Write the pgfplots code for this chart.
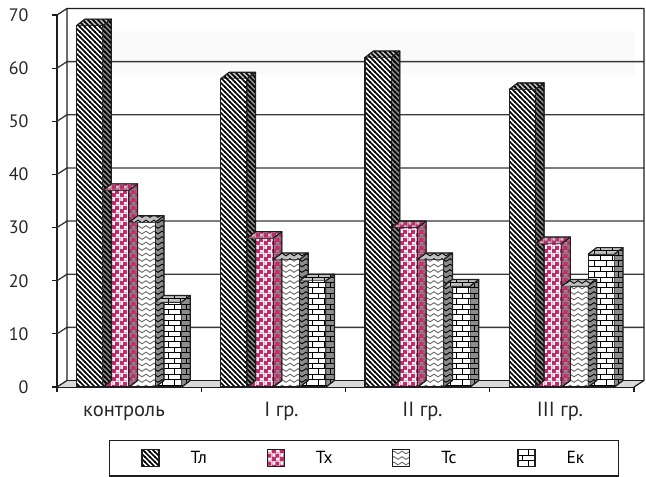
\documentclass[border=0pt]{standalone}
\usepackage{fontspec}
\setmainfont{PT Sans}
\usepackage{pgfplots}
\pgfplotsset{compat=1.18}
\usepackage{pgfplotstable}
\usetikzlibrary{patterns}

\definecolor{txc}{RGB}{192,44,108}
\definecolor{sidegray}{RGB}{140,140,140}
\definecolor{topgray}{RGB}{192,192,192}
\definecolor{edge}{RGB}{30,30,30}
\definecolor{gridc}{RGB}{55,55,55}
\definecolor{floorc}{RGB}{218,218,218}
\definecolor{bandc}{RGB}{250,250,250}
\definecolor{wavec}{RGB}{105,105,105}

% fill patterns of the four series
\pgfdeclarepatternformonly{diagstripes}{\pgfqpoint{-1pt}{-1pt}}{\pgfqpoint{6pt}{6pt}}{\pgfqpoint{5pt}{5pt}}{%
  \pgfsetlinewidth{1.5pt}%
  \pgfpathmoveto{\pgfqpoint{-0.5pt}{5.5pt}}%
  \pgfpathlineto{\pgfqpoint{5.5pt}{-0.5pt}}%
  \pgfusepath{stroke}}
\pgfdeclarepatternformonly{checks}{\pgfqpoint{0pt}{0pt}}{\pgfqpoint{8pt}{8pt}}{\pgfqpoint{8pt}{8pt}}{%
  \pgfpathrectangle{\pgfqpoint{0pt}{0pt}}{\pgfqpoint{8pt}{8pt}}%
  \pgfpathrectangle{\pgfqpoint{0.4pt}{4.4pt}}{\pgfqpoint{3.2pt}{3.2pt}}%
  \pgfpathrectangle{\pgfqpoint{4.4pt}{0.4pt}}{\pgfqpoint{3.2pt}{3.2pt}}%
  \pgfseteorule
  \pgfusepath{fill}}
\pgfdeclarepatternformonly{wavy}{\pgfqpoint{0pt}{-1pt}}{\pgfqpoint{8pt}{6.5pt}}{\pgfqpoint{8pt}{5.5pt}}{%
  \pgfsetlinewidth{0.9pt}%
  \pgfpathmoveto{\pgfqpoint{0pt}{2.5pt}}%
  \pgfpathsine{\pgfqpoint{2pt}{1.3pt}}%
  \pgfpathcosine{\pgfqpoint{2pt}{-1.3pt}}%
  \pgfpathsine{\pgfqpoint{2pt}{-1.3pt}}%
  \pgfpathcosine{\pgfqpoint{2pt}{1.3pt}}%
  \pgfusepath{stroke}}
\pgfdeclarepatternformonly{brickwall}{\pgfqpoint{-0.5pt}{-0.5pt}}{\pgfqpoint{12.5pt}{11.3pt}}{\pgfqpoint{12pt}{10.8pt}}{%
  \pgfsetlinewidth{1pt}%
  \pgfpathmoveto{\pgfqpoint{0pt}{0pt}}\pgfpathlineto{\pgfqpoint{12pt}{0pt}}%
  \pgfpathmoveto{\pgfqpoint{0pt}{5.4pt}}\pgfpathlineto{\pgfqpoint{12pt}{5.4pt}}%
  \pgfpathmoveto{\pgfqpoint{0pt}{0pt}}\pgfpathlineto{\pgfqpoint{0pt}{5.4pt}}%
  \pgfpathmoveto{\pgfqpoint{6pt}{5.4pt}}\pgfpathlineto{\pgfqpoint{6pt}{10.8pt}}%
  \pgfusepath{stroke}}

\pgfdeclareplotmark{nothing}{}

% geometry of the 3D look
\def\uy{5.314286}          % pt per unit of y (372pt / 70)
\def\hw{13.15pt}           % half bar width
\def\bw{26.3pt}            % bar width
\def\bdx{8.5pt}\def\bdy{6.5pt}  % depth of a bar
\def\wdx{10pt}\def\wdy{6.5pt}   % depth of the walls

% side and top faces of a bar, drawn at its front top centre
\newcommand\drawfaces[2]{%
  \pgfmathsetlengthmacro\H{\hval*\uy}%
  \fill[sidegray] (\hw,0pt) -- ++(\bdx,\bdy) -- ++(0pt,-\H) -- (\hw,-\H) -- cycle;
  \fill[pattern=#1, pattern color=#2] (\hw,0pt) -- ++(\bdx,\bdy) -- ++(0pt,-\H) -- (\hw,-\H) -- cycle;
  \fill[topgray] (-\hw,0pt) -- ++(\bdx,\bdy) -- ++(\bw,0pt) -- (\hw,0pt) -- cycle;
  \fill[pattern=#1, pattern color=#2] (-\hw,0pt) -- ++(\bdx,\bdy) -- ++(\bw,0pt) -- (\hw,0pt) -- cycle;
  \draw[edge, line width=1.2pt, line join=round] (-\hw,0pt) -- ++(\bdx,\bdy) -- ++(\bw,0pt) -- ++(0pt,-\H) -- (\hw,-\H);
  \draw[edge, line width=1.2pt, line join=round] (\hw,0pt) -- ++(\bdx,\bdy);
}

\pgfplotsset{
  faces/.style 2 args={forget plot, only marks, scatter, mark=nothing,
    scatter/@pre marker code/.code={\drawfaces{#1}{#2}},
    scatter/@post marker code/.code={}},
  front/.style 2 args={ybar, preaction={fill=white}, pattern=#1, pattern color=#2,
    draw=edge, line width=1.3pt,
    legend image code/.code={%
      \path (-28pt,0pt) (46pt,0pt);
      \fill[white] (0pt,-8.5pt) rectangle (17pt,8.5pt);
      \draw[edge, line width=1.3pt, pattern=#1, pattern color=#2] (0pt,-8.5pt) rectangle (17pt,8.5pt);}},
}

\pgfplotstableread{
x  Tl Tx Tc Ek
0  68 37 31 16
1  58 28 24 20
2  62 30 24 19
3  56 27 19 25
}\data

\begin{document}
\begin{tikzpicture}
\begin{axis}[
  at={(57pt,90pt)}, anchor=south west,
  scale only axis, width=577pt, height=372pt,
  clip=false,
  xmin=-0.5, xmax=3.5, ymin=0, ymax=70,
  axis x line*=bottom, axis y line*=left,
  axis line style={-, draw=edge, line width=1.3pt},
  tick style={draw=edge, line width=1.2pt},
  tick align=outside, major tick length=5pt,
  ytick={0,10,...,70},
  yticklabel style={xshift=-20pt},
  xtick={-0.5,0.5,1.5,2.5,3.5}, xticklabels={},
  extra x ticks={-0.0355,1.0563,2.0338,2.987},
  extra x tick labels={контроль, I гр., II гр., III гр.},
  extra x tick style={major tick length=0pt, tick style={draw=none},
    xticklabel style={font=\fontsize{20.5}{24}\selectfont, anchor=base, yshift=-30pt}},
  tick label style={font=\fontsize{18}{21}\selectfont, text=black!85},
  /pgf/number format/assume math mode=true,
  bar width=0.18232,
  legend columns=4,
  legend style={at={(0.532,-0.1425)}, anchor=north, draw=edge, line width=1.2pt,
    font=\fontsize{17.5}{19}\selectfont, inner xsep=4pt, inner ysep=8.5pt},
]
% floor, back wall and left wall
\fill[floorc] (axis cs:-0.5,0) -- (axis cs:3.5,0) -- ([shift={(\wdx,\wdy)}]axis cs:3.5,0) -- ([shift={(\wdx,\wdy)}]axis cs:-0.5,0) -- cycle;
\fill[bandc] ([shift={(\wdx,\wdy)}]axis cs:-0.5,57.5) rectangle ([shift={(\wdx,\wdy)}]axis cs:3.4376,65.8);
\pgfplotsinvokeforeach{10,20,...,60}{
  \draw[gridc, line width=1.3pt] (axis cs:-0.5,#1) -- ([shift={(\wdx,\wdy)}]axis cs:-0.5,#1) -- ([shift={(\wdx,\wdy)}]axis cs:3.5,#1);
}
\draw[edge, line width=1.2pt, line join=round] (axis cs:-0.5,70) -- ([shift={(\wdx,\wdy)}]axis cs:-0.5,70) -- ([shift={(\wdx,\wdy)}]axis cs:3.5,70) -- ([shift={(\wdx,\wdy)}]axis cs:3.5,0) -- (axis cs:3.5,0);
\draw[edge, line width=1.2pt, line join=round] (axis cs:-0.5,0) -- ([shift={(\wdx,\wdy)}]axis cs:-0.5,0) -- ([shift={(\wdx,\wdy)}]axis cs:-0.5,70);
\draw[edge, line width=1.2pt] ([shift={(\wdx,\wdy)}]axis cs:-0.5,0) -- ([shift={(\wdx,\wdy)}]axis cs:3.5,0);

% Тл
\addplot[front={diagstripes}{black}, bar shift=-0.27348] table[x=x, y=Tl]{\data};
\addlegendentry{\makebox[46pt][l]{Тл}}
\addplot[faces={diagstripes}{black}, visualization depends on={\thisrow{Tl} \as \hval}]
  table[x expr=\thisrow{x}-0.27348, y=Tl]{\data};
% Тх
\addplot[front={checks}{txc}, bar shift=-0.09116] table[x=x, y=Tx]{\data};
\addlegendentry{\makebox[46pt][l]{Тх}}
\addplot[faces={checks}{txc}, visualization depends on={\thisrow{Tx} \as \hval}]
  table[x expr=\thisrow{x}-0.09116, y=Tx]{\data};
% Тс
\addplot[front={wavy}{wavec}, bar shift=0.09116] table[x=x, y=Tc]{\data};
\addlegendentry{\makebox[46pt][l]{Тс}}
\addplot[faces={wavy}{black}, visualization depends on={\thisrow{Tc} \as \hval}]
  table[x expr=\thisrow{x}+0.09116, y=Tc]{\data};
% Ек
\addplot[front={brickwall}{black}, bar shift=0.27348] table[x=x, y=Ek]{\data};
\addlegendentry{\makebox[46pt][l]{Ек}}
\addplot[faces={brickwall}{black}, visualization depends on={\thisrow{Ek} \as \hval}]
  table[x expr=\thisrow{x}+0.27348, y=Ek]{\data};
\end{axis}
\useasboundingbox (0,0) rectangle (646pt,477pt);
\end{tikzpicture}
\end{document}
